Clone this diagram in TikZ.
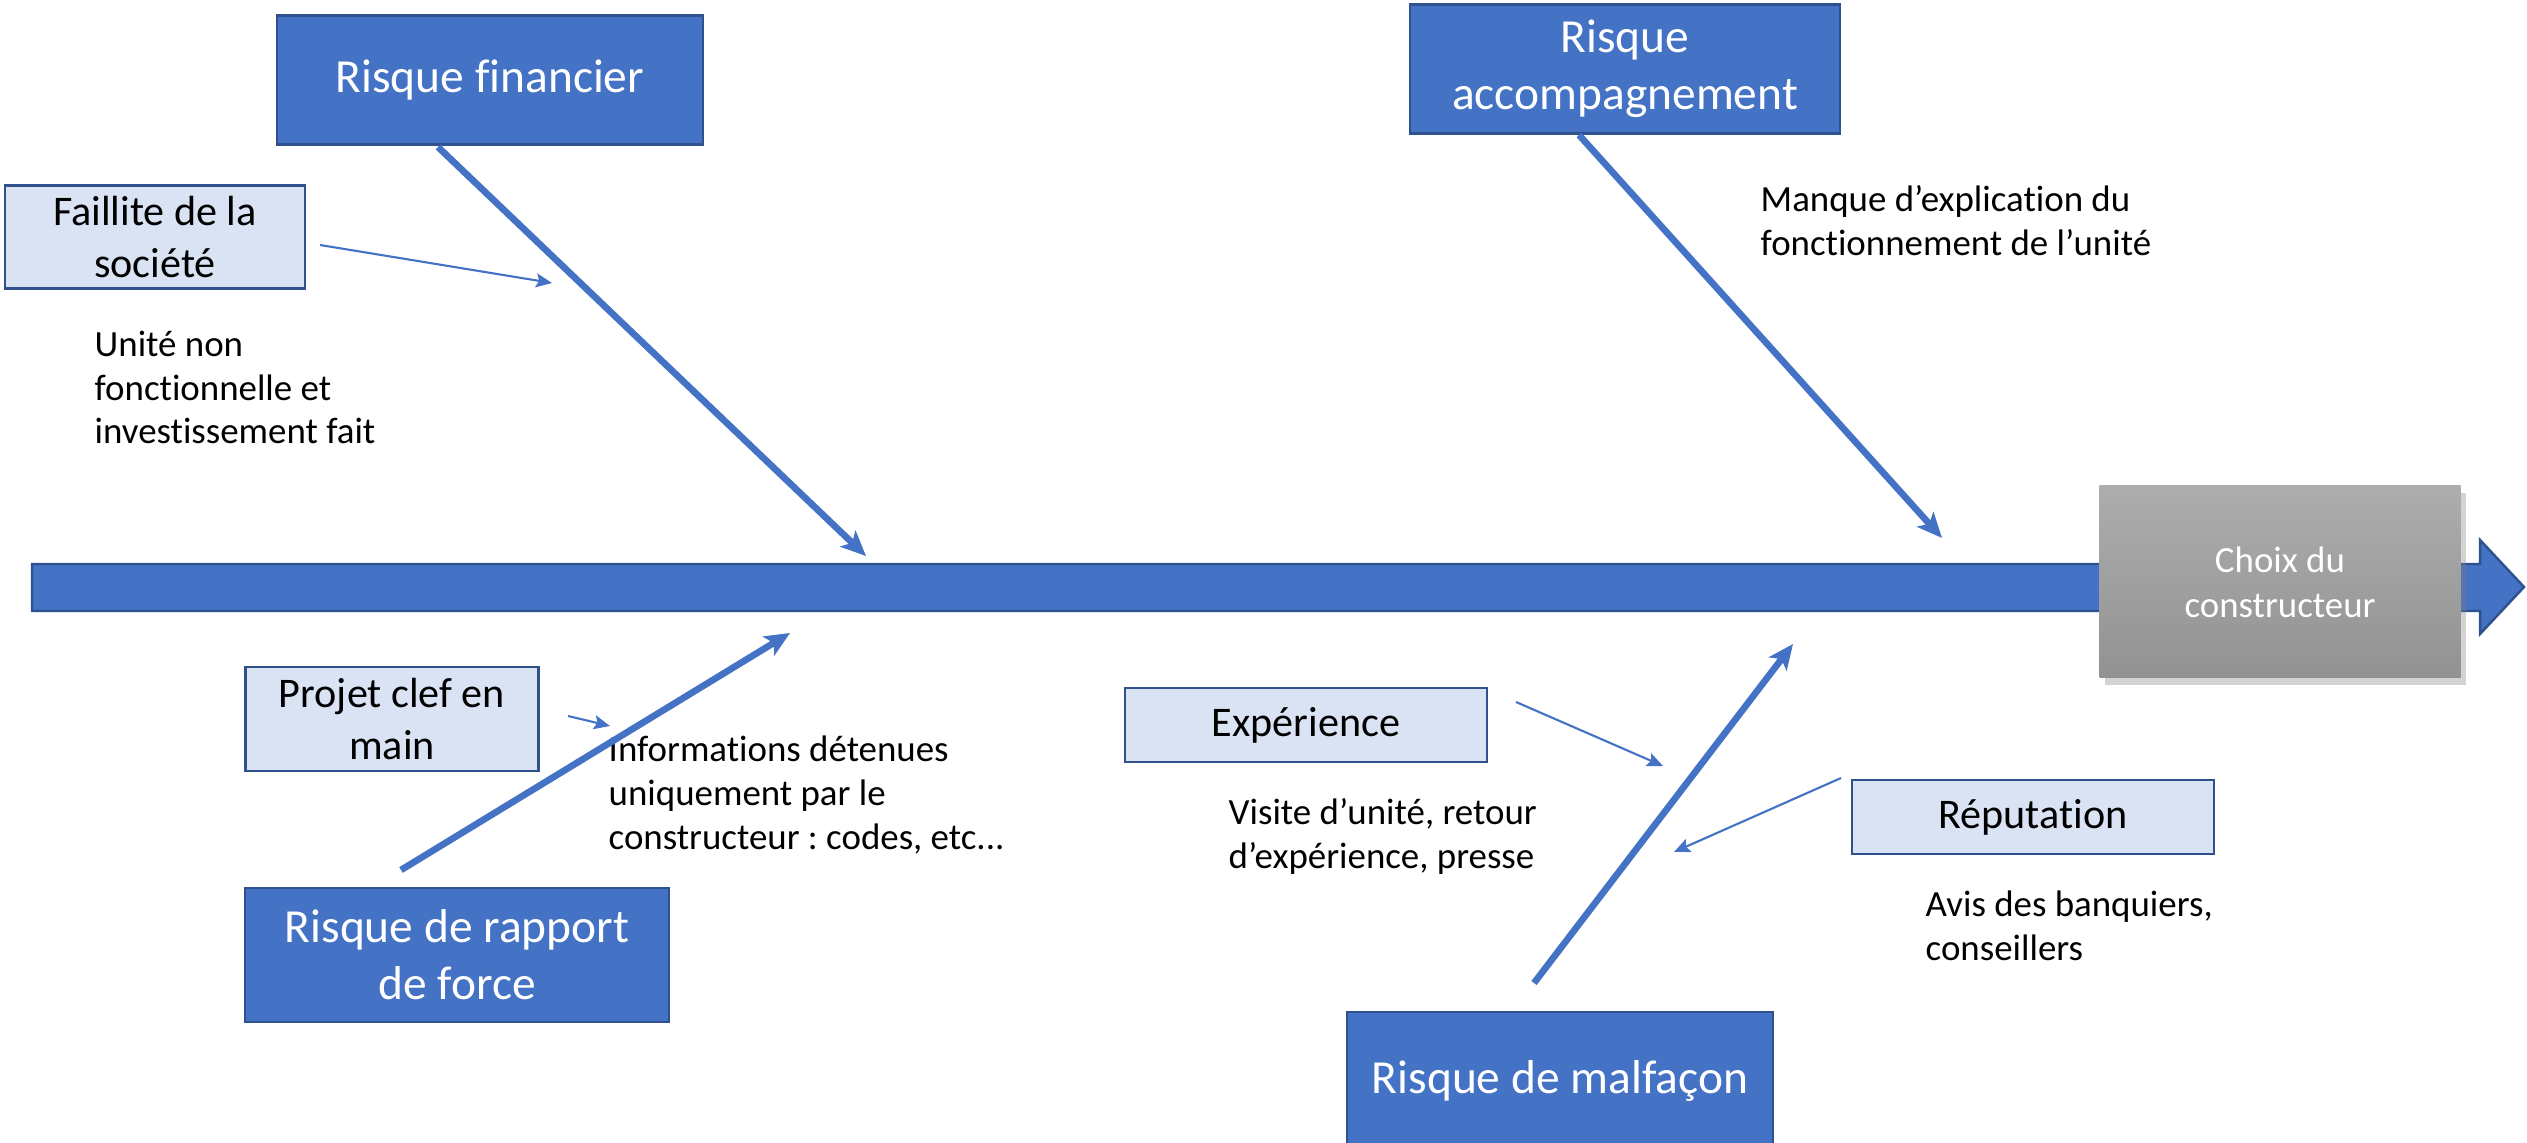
\documentclass[tikz,border=0pt]{standalone}
\usepackage{fontspec}
\setmainfont{Carlito}[Ligatures=NoCommon]
\frenchspacing
\usetikzlibrary{arrows.meta,shadows}

\begin{document}
\begin{tikzpicture}[x=0.1mm,y=-0.1mm]
        % Couleurs du schéma
        \definecolor{bleu}{HTML}{4472C4}
        \definecolor{bleufonce}{HTML}{2F528F}
        \definecolor{bleuclair}{HTML}{DAE3F3}
        \definecolor{grishaut}{HTML}{ADADAD}
        \definecolor{grisbas}{HTML}{929292}

        \tikzset{
            risque/.style={draw=bleufonce, fill=bleu, line width=0.7pt, text=white, align=center, inner sep=0pt, font=\fontsize{13.5}{16.2}\selectfont},
            cause/.style={draw=bleufonce, fill=bleuclair, line width=0.7pt, align=center, inner sep=0pt, font=\fontsize{12}{14.7}\selectfont},
            note/.style={anchor=north west, align=left, inner sep=0pt, font=\fontsize{10.5}{12.5}\selectfont},
            arete/.style={bleu, line width=1.9pt, -{Stealth[length=2.5mm, width=2.2mm, inset=0.6mm]}},
            lien/.style={bleu, line width=0.6pt, -{Stealth[length=1.6mm, width=1.4mm, inset=0.3mm]}}
        }

        \useasboundingbox (0,0) rectangle (2527,1143);

        % Arête centrale
        \filldraw[fill=bleu, draw=bleufonce, line width=0.7pt] (32,564) -- (2480,564) -- (2480,540) -- (2524,587) -- (2480,634) -- (2480,611) -- (32,611) -- cycle;

        % Effet
        \node[shading=axis, top color=grishaut, bottom color=grisbas, drop shadow={shadow xshift=1.5pt, shadow yshift=-2pt, opacity=0.35}, minimum width=3.61cm, minimum height=1.92cm, text=white, align=center, inner sep=0pt, font=\fontsize{10.5}{12.8}\selectfont] (choix) at (2280,582) {Choix du\\constructeur};

        % Grandes causes
        \node[risque, minimum width=4.26cm, minimum height=1.29cm] (fin) at (490,80) {Risque financier};
        \node[risque, minimum width=4.30cm, minimum height=1.29cm] (acc) at (1625,69) {Risque\\accompagnement};
        \node[risque, minimum width=4.24cm, minimum height=1.34cm] (force) at (457,955) {Risque de rapport\\de force};
        \node[risque, minimum width=4.26cm, minimum height=1.38cm] (malf) at (1560,1081) {Risque de malfaçon};

        % Sous-causes
        \node[cause, minimum width=3.00cm, minimum height=1.03cm] (fail) at (155,237) {Faillite de la\\société};
        \node[cause, minimum width=2.93cm, minimum height=1.04cm] (projet) at (392,719) {Projet clef en\\main};
        \node[cause, minimum width=3.62cm, minimum height=0.74cm] (exp) at (1306,725) {Expérience};
        \node[cause, minimum width=3.62cm, minimum height=0.74cm] (rep) at (2033,817) {Réputation};

        % Commentaires
        \foreach \nom/\x/\y/\txt in {unite/94/330/{Unité non\\fonctionnelle et\\investissement fait},
                                     manque/1760/185/{Manque d’explication du\\fonctionnement de l’unité},
                                     info/608/735/{Informations détenues\\uniquement par le\\constructeur : codes, etc...},
                                     visite/1228/798/{Visite d’unité, retour\\d’expérience, presse},
                                     avis/1925/890/{Avis des banquiers,\\conseillers}} {
            \node[note] (\nom) at (\x,\y) {\txt};
        }

        % Extrémités des arêtes
        \coordinate (finPied) at (438,147);     \coordinate (finPointe) at (866,556);
        \coordinate (accPied) at (1579,135);    \coordinate (accPointe) at (1942,538);
        \coordinate (forcePied) at (401,870);   \coordinate (forcePointe) at (790,633);
        \coordinate (malfPied) at (1534,983);   \coordinate (malfPointe) at (1793,644);

        \draw[arete] (finPied) -- (finPointe);
        \draw[arete] (accPied) -- (accPointe);
        \draw[arete] (forcePied) -- (forcePointe);
        \draw[arete] (malfPied) -- (malfPointe);

        % Petites flèches
        \coordinate (failDe) at (320,245);    \coordinate (failA) at (552,283);
        \coordinate (projDe) at (568,716);    \coordinate (projA) at (610,726);
        \coordinate (expDe) at (1516,702);    \coordinate (expA) at (1663,766);
        \coordinate (repDe) at (1841,778);    \coordinate (repA) at (1674,852);

        \draw[lien] (failDe) -- (failA);
        \draw[lien] (projDe) -- (projA);
        \draw[lien] (expDe) -- (expA);
        \draw[lien] (repDe) -- (repA);
    \end{tikzpicture}
\end{document}
